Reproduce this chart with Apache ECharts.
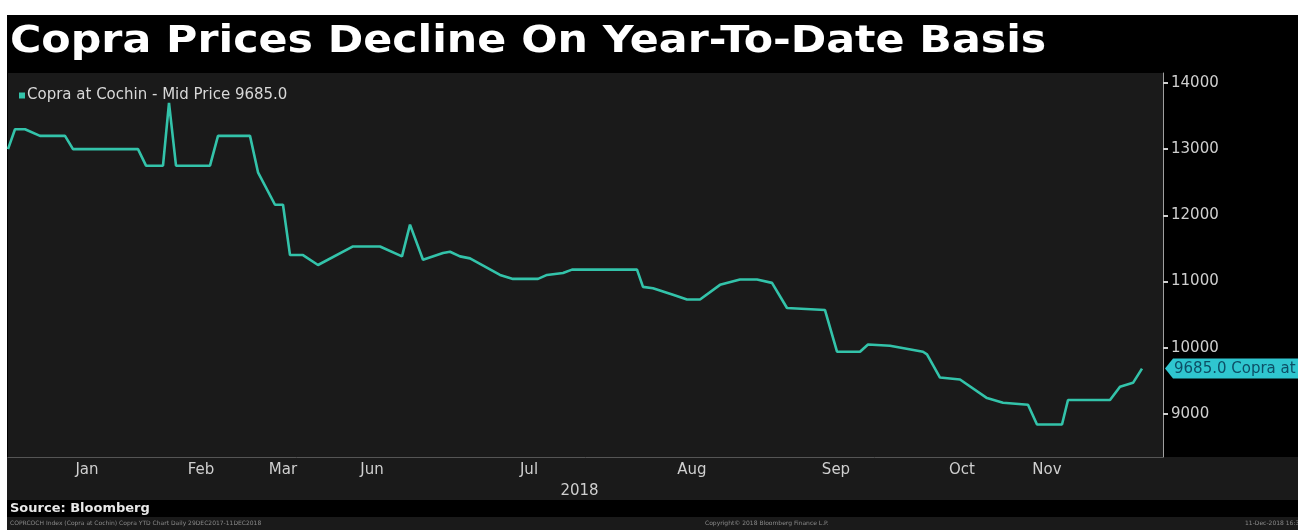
<!DOCTYPE html>
<html>
<head>
<meta charset="utf-8">
<script src="https://cdn.jsdelivr.net/npm/echarts@6/dist/echarts.min.js"></script>
<style>
html,body{margin:0;padding:0;background:#fff;}
#chart{width:1298px;height:530px;}
</style>
</head>
<body>
<div id="chart"></div>
<script>
// ---- data ----
var titleText = 'Copra Prices Decline On Year-To-Date Basis';
var seriesBaseName = 'Copra at Cochin - Mid Price';
// position along the time axis (trading-day units) and price
var dayPos = [0, 1.4, 3.4, 6.4, 11.4, 13, 26, 27.6, 31, 32.2, 33.6, 40.4, 42, 48.4, 50, 53.4, 55, 56.4, 59, 62, 69, 74.4, 78.8, 80.4, 83, 87, 88.4, 90.4, 92.4, 98.4, 101, 106, 107.8, 111, 112.8, 125.8, 127, 129, 133, 135.8, 138.4, 142.4, 146.4, 149.8, 152.8, 155.8, 163.4, 165.8, 170.4, 172, 176.4, 183, 183.8, 186.4, 190.4, 195.8, 199, 204, 205.8, 210.8, 212, 220.4, 222.4, 225, 226.8];
var prices = [13000, 13300, 13300, 13200, 13200, 13000, 13000, 12750, 12750, 13700, 12750, 12750, 13200, 13200, 12650, 12160, 12160, 11400, 11400, 11250, 11530, 11530, 11380, 11860, 11330, 11430, 11450, 11380, 11350, 11100, 11040, 11040, 11100, 11130, 11180, 11180, 10920, 10900, 10800, 10730, 10730, 10950, 11030, 11030, 10980, 10600, 10570, 9940, 9940, 10050, 10030, 9940, 9900, 9550, 9520, 9240, 9170, 9140, 8840, 8840, 9210, 9210, 9410, 9470, 9685];
var monthLabels = ['Jan', 'Feb', 'Mar', 'Jun', 'Jul', 'Aug', 'Sep', 'Oct', 'Nov'];
var monthPos = [15.8, 38.6, 55, 72.8, 104.2, 136.8, 165.6, 190.8, 207.8];
var yearLabel = '2018';
var yTicks = [9000, 10000, 11000, 12000, 13000, 14000];
var axisRange = {xMin: 0, xMax: 231, yMin: 8350, yMax: 14150};
var sourceText = 'Source: Bloomberg';
var footLeft = 'COPRCOCH Index (Copra at Cochin) Copra YTD Chart Daily 29DEC2017-11DEC2018';
var footMid = 'Copyright\u00a9 2018 Bloomberg Finance L.P.';
var footRight = '11-Dec-2018 16:36:28';

var lastPrice = prices[prices.length - 1];
var seriesData = dayPos.map(function (d, i) { return [d, prices[i]]; });
var legendName = seriesBaseName + ' ' + lastPrice.toFixed(1);

var FONT = 'DejaVu Sans';
var LINE = '#33c3aa';
var chart = echarts.init(document.getElementById('chart'), null, {renderer: 'canvas'});
chart.setOption({
  backgroundColor: '#000',
  animation: false,
  textStyle: {fontFamily: FONT},
  legend: {
    left: 19, top: 88, padding: 0, itemGap: 0,
    icon: 'rect', itemWidth: 6, itemHeight: 6,
    textStyle: {color: '#d8d8d8', fontSize: 15, fontFamily: FONT, padding: [0, 0, 0, -3]},
    data: [legendName]
  },
  grid: {
    left: 8, right: 135, top: 73, bottom: 73,
    show: true, backgroundColor: '#1a1a1a', borderWidth: 0
  },
  xAxis: {
    type: 'value', min: axisRange.xMin, max: axisRange.xMax,
    axisLine: {show: true, onZero: false, lineStyle: {color: '#555', width: 1}},
    axisTick: {show: false},
    splitLine: {show: false},
    axisLabel: {
      customValues: monthPos, color: '#cfcfcf', fontSize: 15, fontFamily: FONT, margin: 6,
      formatter: function (v) {
        for (var i = 0; i < monthPos.length; i++) { if (Math.abs(monthPos[i] - v) < 1e-6) return monthLabels[i]; }
        return '';
      }
    },
    name: yearLabel, nameLocation: 'middle', nameGap: 27,
    nameTextStyle: {color: '#cfcfcf', fontSize: 15, fontFamily: FONT, padding: [0, 12, 0, 0]}
  },
  yAxis: {
    type: 'value', position: 'right', min: axisRange.yMin, max: axisRange.yMax,
    axisLine: {show: true, onZero: false, lineStyle: {color: '#a0a0a0', width: 1}},
    axisTick: {show: true, customValues: yTicks, length: 5, lineStyle: {color: '#cfcfcf', width: 2}},
    splitLine: {show: false},
    axisLabel: {
      customValues: yTicks, color: '#cfcfcf', fontSize: 15, fontFamily: FONT, margin: 8,
      formatter: function (v) { return String(v); }
    }
  },
  series: [{
    name: legendName, type: 'line', data: seriesData,
    showSymbol: false, symbol: 'none',
    lineStyle: {color: LINE, width: 2.6},
    itemStyle: {color: LINE},
    markPoint: {
      silent: true,
      data: [{
        coord: [axisRange.xMax, lastPrice],
        symbol: 'path://M0,10 L8,0 L140,0 L140,20 L8,20 Z',
        symbolSize: [140, 20], symbolKeepAspect: false, symbolOffset: [72, 0],
        itemStyle: {color: '#2fc6cf'},
        label: {
          show: true, position: 'insideLeft', distance: 9,
          color: '#0d4f66', fontSize: 15, fontFamily: FONT,
          formatter: function () { return lastPrice.toFixed(1) + ' ' + seriesBaseName; }
        }
      }]
    }
  }],
  graphic: [
    {type: 'rect', shape: {x: 0, y: 0, width: 1298, height: 15}, style: {fill: '#fff'}},
    {type: 'rect', shape: {x: 0, y: 0, width: 7, height: 530}, style: {fill: '#fff'}},
    {type: 'rect', z: -10, shape: {x: 7, y: 457, width: 1291, height: 43}, style: {fill: '#1a1a1a'}},
    {type: 'rect', z: -10, shape: {x: 7, y: 517, width: 1291, height: 13}, style: {fill: '#1a1a1a'}},
    {type: 'text', x: 10, y: 24, scaleX: 1.155, scaleY: 1,
      style: {text: titleText, fill: '#fff', font: 'bold 37px "DejaVu Sans"', textVerticalAlign: 'top'}},
    {type: 'text', left: 10, top: 502, style: {text: sourceText, fill: '#e8e8e8', font: 'bold 13px "DejaVu Sans"'}},
    {type: 'text', left: 10, top: 520, style: {text: footLeft, fill: '#8a8a8a', font: '6px "DejaVu Sans"'}},
    {type: 'text', left: 705, top: 520, style: {text: footMid, fill: '#8a8a8a', font: '6px "DejaVu Sans"'}},
    {type: 'text', left: 1245, top: 520, style: {text: footRight, fill: '#8a8a8a', font: '6px "DejaVu Sans"'}}
  ]
});
</script>
</body>
</html>
